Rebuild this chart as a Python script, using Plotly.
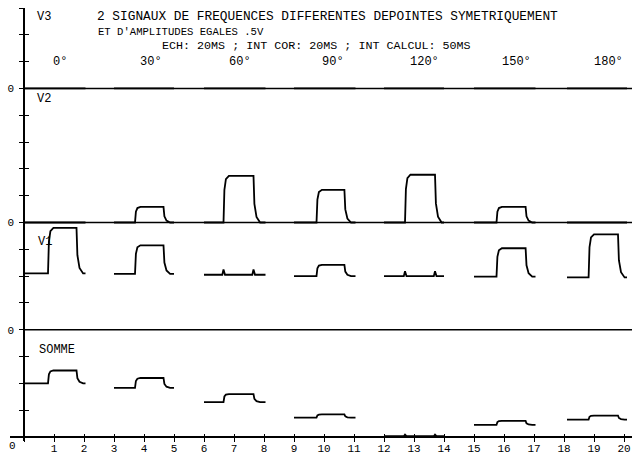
import plotly.graph_objects as go

W, H = 640, 457

# ---------------- data ----------------
groups = ["0°", "30°", "60°", "90°", "120°", "150°", "180°"]
seg_start = [0.0, 3.0, 6.0, 9.0, 12.0, 15.0, 18.1]
seg_end = [2.05, 5.0, 8.05, 11.05, 14.0, 17.05, 20.1]
rise_at = [0.8, 3.7, 6.65, 9.75, 12.7, 15.75, 18.82]
fall_at = [1.75, 4.65, 7.65, 10.68, 13.7, 16.72, 19.8]

v3_low = [0, 0, 0, 0, 0, 0, 0]
v3_high = [0, 0, 0, 0, 0, 0, 0]
v3_spike = [0, 0, 0, 0, 0, 0, 0]

v2_low = [0, 0, 0, 0, 0, 0, 0]
v2_high = [0, 0.58, 1.74, 1.22, 1.78, 0.58, 0]
v2_spike = [0, 0, 0, 0, 0, 0, 0]

v1_low = [2.1, 2.08, 2.05, 2.0, 2.0, 1.98, 1.95]
v1_high = [3.8, 3.15, 2.05, 2.42, 2.0, 3.04, 3.56]
v1_spike = [0, 0, 0.2, 0, 0.18, 0, 0]

somme_low = [2.0, 1.83, 1.3, 0.72, 0.03, 0.45, 0.65]
somme_high = [2.48, 2.2, 1.6, 0.84, 0.03, 0.6, 0.8]
somme_spike = [0, 0, 0, 0, 0.06, 0, 0]

panel_names = ["SOMME", "V1", "V2", "V3"]
panel_zero = [0, 4, 8, 13]
x_ticks = list(range(0, 21))
y_ticks = list(range(0, 17))

# ---------------- styling constants ----------------
FONT = "Liberation Mono"
INK = "black"
X0_PX, X_UNIT = 24.0, 30.0          # pixel of x=0 and px per unit
XL_PX, XR_PX = 10.0, 632.0           # extent of x axis line
Y_TOP_PX, Y_BOT_PX = 8.0, 441.0      # extent of y axis line
Y_RANGE = [-0.15, 16]
BASE_END = 20.4
# rounded-edge profile of the recorder pen (style only)
RISE_DX = [0.03, 0.08, 0.18]
RISE_FR = [0.7, 0.93, 1.0]
FALL_DX = [0.03, 0.1, 0.22]
FALL_FR = [0.4, 0.12, 0.0]


def pulse(s, e, r, f, lo, hi, sp):
    d = hi - lo
    if abs(d) < 1e-9:
        xs = [s, r - 0.04, r, r + 0.05, f - 0.04, f, f + 0.05, e]
        ys = [lo, lo, lo + sp, lo, lo, lo + sp, lo, lo]
    else:
        xs = [s, r] + [r + dx for dx in RISE_DX] + [f] + [f + dx for dx in FALL_DX] + [e]
        ys = [lo, lo] + [lo + fr * d for fr in RISE_FR] + [hi] + [lo + fr * d for fr in FALL_FR] + [lo]
    return xs, ys


fig = go.Figure()

panels = [
    (somme_low, somme_high, somme_spike),
    (v1_low, v1_high, v1_spike),
    (v2_low, v2_high, v2_spike),
    (v3_low, v3_high, v3_spike),
]

# vertical axis line (x = 0) over the whole y range
fig.add_trace(go.Scatter(x=[0, 0], y=Y_RANGE, mode="lines", cliponaxis=False,
                         line=dict(color=INK, width=1.8), hoverinfo="skip"))

# panel baselines
for z in panel_zero[1:]:
    fig.add_trace(go.Scatter(x=[0, BASE_END], y=[z, z], mode="lines",
                             line=dict(color=INK, width=1.6), hoverinfo="skip"))

for name, z, (lo_l, hi_l, sp_l) in zip(panel_names, panel_zero, panels):
    X, Y = [], []
    for i in range(len(groups)):
        xs, ys = pulse(seg_start[i], seg_end[i], rise_at[i], fall_at[i], lo_l[i], hi_l[i], sp_l[i])
        X += xs + [None]
        Y += [y + z for y in ys] + [None]
    fig.add_trace(go.Scatter(x=X, y=Y, mode="lines", name=name,
                             line=dict(color=INK, width=1.8)))

# dummy trace for the overlay (inside-tick) axes
fig.add_trace(go.Scatter(x=[None], y=[None], xaxis="x2", yaxis="y2", showlegend=False))

x_range = [(XL_PX - X0_PX) / X_UNIT, (XR_PX - X0_PX) / X_UNIT]
xdom = [XL_PX / W, XR_PX / W]
ydom = [(H - Y_BOT_PX) / H, (H - Y_TOP_PX) / H]
x_pos = (H - 437.0) / H
y_pos = X0_PX / W

tickfont = dict(family=FONT, size=11, color=INK)
x_text = [""] + [str(t) for t in x_ticks[1:]]
y_text = ["0" if (t in panel_zero and t != 0) else "" for t in y_ticks]

common_x = dict(domain=xdom, range=x_range, anchor="free", position=x_pos,
                showgrid=False, zeroline=False, tickvals=x_ticks,
                tickcolor=INK, tickwidth=1.3)
common_y = dict(domain=ydom, range=Y_RANGE, anchor="free", position=y_pos,
                showgrid=False, zeroline=False, tickvals=y_ticks,
                tickcolor=INK, tickwidth=1.3)

fig.update_layout(
    width=W, height=H, margin=dict(l=0, r=0, t=0, b=0),
    paper_bgcolor="white", plot_bgcolor="white", showlegend=False,
    xaxis=dict(**common_x, showline=True, linecolor=INK, linewidth=1.6,
               ticks="outside", ticklen=4, ticktext=x_text, tickfont=tickfont,
               ticklabelstandoff=-3),
    xaxis2=dict(**common_x, overlaying="x", showline=False,
                ticks="inside", ticklen=3, showticklabels=False),
    yaxis=dict(**common_y, showline=True, linecolor=INK, linewidth=1.6,
               ticks="outside", ticklen=4, ticktext=y_text, tickfont=tickfont,
               ticklabelstandoff=3),
    yaxis2=dict(**common_y, overlaying="y", showline=False, ticks="inside",
                ticklen=4, showticklabels=False),
)


def px_ann(text, xpx, ypx, size=12, anchor="left"):
    fig.add_annotation(text=text, x=xpx / W, y=(H - ypx) / H, xref="paper", yref="paper",
                       xanchor=anchor, yanchor="middle", showarrow=False,
                       font=dict(family=FONT, size=size, color=INK))


px_ann("2 SIGNAUX DE FREQUENCES DIFFERENTES DEPOINTES SYMETRIQUEMENT", 95, 17, size=12.8)
px_ann("ET D'AMPLITUDES EGALES .5V", 96, 32, size=10.6)
px_ann("ECH: 20MS ; INT COR: 20MS ; INT CALCUL: 50MS", 160, 46, size=11.7)
px_ann("V3", 35, 17)
px_ann("V2", 35, 99)
px_ann("V1", 36, 242)
px_ann("SOMME", 37, 350)
px_ann("0", 12, 446, size=11, anchor="center")

for i, g in enumerate(groups):
    fig.add_annotation(text=g, x=rise_at[i] + 0.1, y=panel_zero[3] + 1.0, xref="x", yref="y",
                       xanchor="left", yanchor="middle", showarrow=False,
                       font=dict(family=FONT, size=12, color=INK))

fig.write_html("out.html", config={"displayModeBar": False},
               post_script="document.body.style.margin='0px';")
